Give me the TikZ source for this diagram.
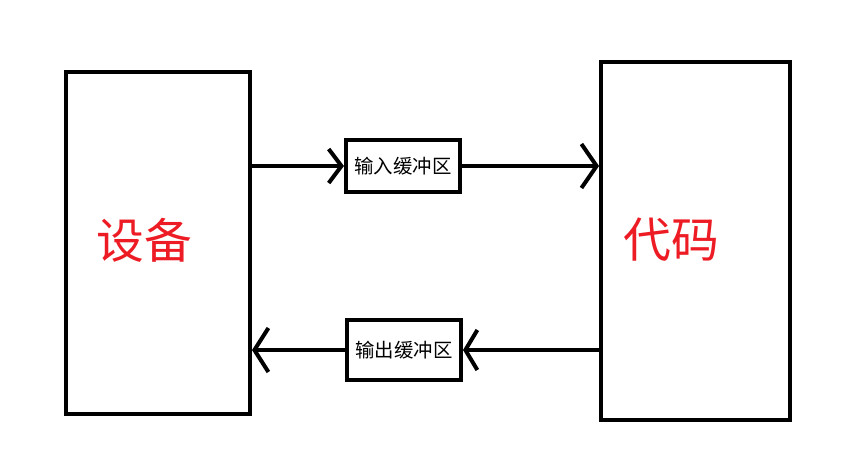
\documentclass[tikz,border=0pt]{standalone}
\usepackage{fontspec}
\usepackage{xcolor}
\newfontfamily\cjk{Noto Sans CJK SC}
\usetikzlibrary{arrows.meta}
\definecolor{paintred}{RGB}{237,28,36}

\begin{document}
\begin{tikzpicture}[x=0.025cm,y=-0.025cm,
    bigbox/.style={draw,line width=0.1cm,inner sep=0pt},
    bufbox/.style={draw,line width=0.1cm,minimum width=2.85cm,inner sep=0pt,font=\cjk\fontsize{13.8}{16}\selectfont},
    biglabel/.style={text=paintred,font=\cjk\fontsize{34}{40}\selectfont},
    arr/.style={line width=0.1cm,-{Straight Barb[length=0.32cm,width=0.85cm,line width=0.1cm]}}]
  \useasboundingbox (0,0) rectangle (843,463);
  % the two big boxes
  \node [bigbox,minimum width=4.6cm,minimum height=8.55cm] (dev) at (158,243) {};
  \node [bigbox,minimum width=4.72cm,minimum height=8.95cm] (code) at (695.5,241) {};
  \node [biglabel] (devlabel) at (144,240) {设备};
  \node [biglabel] (codelabel) at (671,240) {代码};
  % buffers
  \node [bufbox,minimum height=1.3cm] (inbuf) at (403,166) {输入缓冲区};
  \node [bufbox,minimum height=1.5cm] (outbuf) at (404,350) {输出缓冲区};
  % connectors
  \draw [arr] (dev.east |- inbuf.west) -- (inbuf.west);
  \draw [arr,-{Straight Barb[length=0.38cm,width=1.1cm,line width=0.1cm]}] (inbuf.east) -- (code.west |- inbuf.east);
  \draw [arr,-{Straight Barb[length=0.3cm,width=1.0cm,line width=0.1cm]}] (code.west |- outbuf.east) -- (outbuf.east);
  \draw [arr,-{Straight Barb[length=0.35cm,width=1.1cm,line width=0.1cm]}] (outbuf.west) -- (dev.east |- outbuf.west);
\end{tikzpicture}
\end{document}
